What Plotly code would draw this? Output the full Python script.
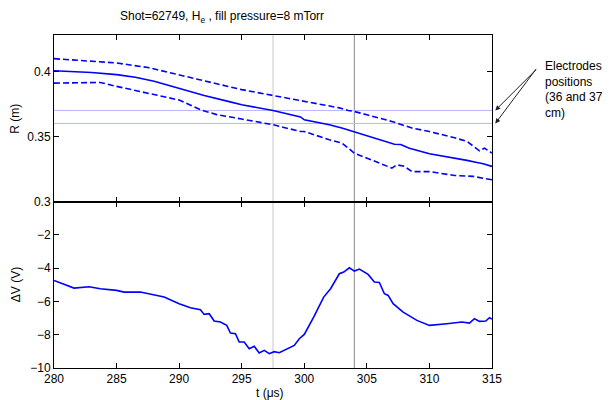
import plotly.graph_objects as go

# ---- data ----
t_r = [280.0, 281.5, 283.0, 285.0, 286.5, 288.0, 290.0, 292.0, 294.0, 295.0, 297.5, 299.7,
       300.0, 302.0, 303.0, 304.0, 305.0, 306.2, 306.8, 307.2, 307.7, 308.0, 308.4, 310.0,
       312.0, 313.0, 313.8, 314.3, 315.0]
r_mid = [0.4005, 0.4000, 0.3992, 0.3975, 0.3955, 0.3925, 0.3872, 0.3815, 0.3768, 0.3744, 0.3700, 0.3650,
         0.3628, 0.3590, 0.3565, 0.3534, 0.3508, 0.3470, 0.3450, 0.3440, 0.3438, 0.3425, 0.3410, 0.3367,
         0.3335, 0.3316, 0.3300, 0.3290, 0.3270]

t_up = [280.0, 282.0, 285.0, 287.5, 290.0, 292.5, 295.0, 297.5, 299.7, 300.0, 302.0, 302.8,
        303.5, 304.0, 305.0, 307.0, 308.6, 310.0, 312.0, 313.0, 314.0, 314.4, 315.0]
r_up = [0.4098, 0.4085, 0.4065, 0.4030, 0.3975, 0.3918, 0.3860, 0.3815, 0.3775, 0.3769, 0.3730, 0.3720,
        0.3700, 0.3692, 0.3667, 0.3615, 0.3565, 0.3538, 0.3490, 0.3462, 0.3390, 0.3410, 0.3372]

t_lo = [280.0, 282.0, 283.7, 285.0, 287.5, 290.0, 291.7, 293.0, 295.0, 297.5, 299.7,
        300.0, 302.0, 303.0, 304.0, 305.0, 306.0, 307.0, 307.4, 308.0, 308.6, 310.0,
        312.0, 313.5, 315.0]
r_lo = [0.3910, 0.3915, 0.3915, 0.3885, 0.3835, 0.3780, 0.3705, 0.3668, 0.3634, 0.3590, 0.3538,
        0.3538, 0.3475, 0.3450, 0.3372, 0.3334, 0.3300, 0.3257, 0.3282, 0.3270, 0.3230, 0.3230,
        0.3200, 0.3193, 0.3167]

t_v = [280.0, 281.6, 282.8, 283.7, 285.0, 285.6, 286.9, 288.2, 288.8, 290.0, 290.9, 291.7,
       292.0, 292.4, 292.8, 293.3, 293.8, 294.1, 294.5, 294.8, 295.2, 295.6, 296.0, 296.4,
       296.8, 297.2, 297.6, 298.0, 299.2, 299.6, 300.0, 300.75, 301.55, 302.1, 302.8, 303.15,
       303.6, 304.0, 304.4, 305.1, 305.6, 306.0, 306.4, 306.7, 307.1, 307.9, 309.0, 310.0,
       310.9, 311.4, 311.9, 312.6, 313.2, 313.6, 314.0, 314.5, 314.8, 315.0]
dv = [-4.74, -5.20, -5.12, -5.24, -5.34, -5.44, -5.44, -5.64, -5.74, -6.14, -6.38, -6.50,
      -6.78, -6.74, -7.18, -7.24, -7.44, -7.90, -7.94, -8.44, -8.44, -8.84, -8.70, -9.10,
      -8.94, -9.14, -9.02, -9.08, -8.64, -8.24, -7.98, -6.94, -5.74, -5.24, -4.34, -4.24,
      -3.98, -4.18, -4.06, -4.38, -4.84, -4.86, -5.54, -5.64, -6.14, -6.64, -7.14, -7.44,
      -7.40, -7.34, -7.30, -7.24, -7.30, -7.04, -7.20, -7.18, -6.98, -7.06]

x_ticks = [280, 285, 290, 295, 300, 305, 310, 315]
r_ticks = [0.3, 0.35, 0.4]
r_tick_text = ["0.3", "0.35", "0.4"]
v_ticks = [-10, -8, -6, -4, -2]
v_tick_text = ["\u221210", "\u22128", "\u22126", "\u22124", "\u22122"]
electrode_r = [0.36, 0.37]
marker_t = [297.5, 304.0]

FONT = "Liberation Sans, Arial, sans-serif"
BLUE = "#0000ff"

fig = go.Figure()

# electrode position lines (top panel)
for er in electrode_r:
    fig.add_trace(go.Scatter(x=[280, 315], y=[er, er], mode="lines",
                             line=dict(color="#b4b8ff", width=1), xaxis="x", yaxis="y",
                             showlegend=False, hoverinfo="skip"))

fig.add_trace(go.Scatter(x=t_up, y=r_up, mode="lines", line=dict(color=BLUE, width=1.6, dash="6px,3px"),
                         xaxis="x", yaxis="y", showlegend=False))
fig.add_trace(go.Scatter(x=t_lo, y=r_lo, mode="lines", line=dict(color=BLUE, width=1.6, dash="6px,3px"),
                         xaxis="x", yaxis="y", showlegend=False))
fig.add_trace(go.Scatter(x=t_r, y=r_mid, mode="lines", line=dict(color=BLUE, width=1.6),
                         xaxis="x", yaxis="y", showlegend=False))
fig.add_trace(go.Scatter(x=t_v, y=dv, mode="lines", line=dict(color=BLUE, width=1.6),
                         xaxis="x2", yaxis="y2", showlegend=False))

# vertical time markers across both panels
for tm, col in zip(marker_t, ["#c8c8c8", "#8c8c8c"]):
    fig.add_shape(type="line", xref="x2", yref="paper", x0=tm, x1=tm, y0=0, y1=1,
                  line=dict(color=col, width=1), layer="below")

axis_common = dict(showline=True, linecolor="black", linewidth=1, mirror="ticks",
                   ticks="inside", ticklen=5, tickcolor="black", showgrid=False, zeroline=False,
                   automargin=False,
                   tickfont=dict(family=FONT, size=12, color="black"))

# page body has an 8px default margin, so the figure is sized to fit the 611x400 window
fig.update_layout(
    width=603, height=392,
    margin=dict(l=46, r=119, t=27, b=32, autoexpand=False),
    paper_bgcolor="white", plot_bgcolor="white",
    xaxis=dict(domain=[0, 1], anchor="y", range=[280, 315], tickvals=x_ticks,
               showticklabels=False, **axis_common),
    yaxis=dict(domain=[0.5, 1], anchor="x", range=[0.3, 0.428], tickvals=r_ticks,
               ticktext=r_tick_text, **axis_common),
    xaxis2=dict(domain=[0, 1], anchor="y2", range=[280, 315], tickvals=x_ticks, **axis_common),
    yaxis2=dict(domain=[0, 0.5], anchor="x2", range=[-10, 0], tickvals=v_ticks,
                ticktext=v_tick_text, **axis_common),
)

lab = dict(family=FONT, size=12, color="black")
# axis titles
fig.add_annotation(text="R (m)", xref="paper", yref="paper", x=-0.088, y=0.75, textangle=-90,
                   xanchor="center", yanchor="middle", showarrow=False, font=lab, borderpad=0)
fig.add_annotation(text="\u0394V (V)", xref="paper", yref="paper", x=-0.088, y=0.25, textangle=-90,
                   xanchor="center", yanchor="middle", showarrow=False, font=lab, borderpad=0)
fig.add_annotation(text="t (\u03bcs)", xref="paper", yref="paper", x=0.494, y=0, yshift=-25,
                   xanchor="center", yanchor="middle", showarrow=False, font=lab, borderpad=0)

# title
fig.add_annotation(text="Shot=62749, H<sub>e</sub> , fill pressure=8 mTorr", xref="paper", yref="paper",
                   x=0.384, y=1.0, yshift=27, xanchor="center", yanchor="top", showarrow=False,
                   font=lab, borderpad=0)

# electrode note
fig.add_annotation(text="Electrodes<br>positions<br>(36 and 37<br>cm)", xref="paper", yref="paper",
                   x=1.117, y=0.935, xanchor="left", yanchor="top", align="left", showarrow=False,
                   font=lab)
for er, ay in zip(electrode_r, [-56, -42]):
    fig.add_annotation(text="", xref="paper", yref="y", x=1.0075, y=er, ax=42, ay=ay,
                       showarrow=True, arrowhead=2, arrowsize=1, arrowwidth=1, arrowcolor="#222222")

fig.write_html("out.html")
